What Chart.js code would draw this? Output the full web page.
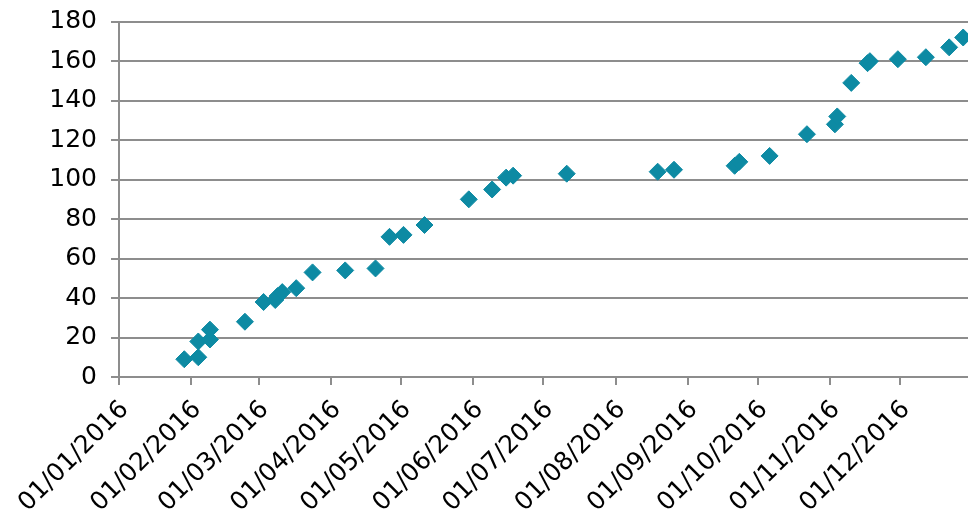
<!DOCTYPE html>
<html>
<head>
<meta charset="utf-8">
<script src="https://cdn.jsdelivr.net/npm/chart.js@4.4.1/dist/chart.umd.min.js"></script>
<style>
  html, body { margin: 0; padding: 0; background: #fff; width: 968px; height: 519px; overflow: hidden; }
  canvas { display: block; }
</style>
</head>
<body>
<canvas id="chart" width="982" height="519"></canvas>
<script>
// Observation dates (ISO) and the running total recorded on each date
const dates = [
  '2016-01-29', '2016-02-04', '2016-02-04', '2016-02-09', '2016-02-09',
  '2016-02-24', '2016-03-03', '2016-03-08', '2016-03-09', '2016-03-11',
  '2016-03-17', '2016-03-24', '2016-04-07', '2016-04-20', '2016-04-26',
  '2016-05-02', '2016-05-11', '2016-05-30', '2016-06-09', '2016-06-15',
  '2016-06-18', '2016-07-11', '2016-08-19', '2016-08-26', '2016-09-21',
  '2016-09-23', '2016-10-06', '2016-10-22', '2016-11-03', '2016-11-04',
  '2016-11-10', '2016-11-17', '2016-11-18', '2016-11-30', '2016-12-12',
  '2016-12-22', '2016-12-28'
];
const values = [
  9, 10, 18, 19, 24,
  28, 38, 39, 41, 43,
  45, 53, 54, 55, 71,
  72, 77, 90, 95, 101,
  102, 103, 104, 105, 107,
  109, 112, 123, 128, 132,
  149, 159, 160, 161, 162,
  167, 172
];

// Month-start ticks along the date axis
const monthTicks = [
  '2016-01-01', '2016-02-01', '2016-03-01', '2016-04-01', '2016-05-01', '2016-06-01',
  '2016-07-01', '2016-08-01', '2016-09-01', '2016-10-01', '2016-11-01', '2016-12-01'
];
const yMin = 0, yMax = 180, yStep = 20;
const xStart = '2016-01-01', xEnd = '2017-01-01';

const DAY_MS = 86400000;
const ORIGIN = Date.UTC(2016, 0, 1);
function dayIndex(iso) {
  const [y, m, d] = iso.split('-').map(Number);
  return Math.round((Date.UTC(y, m - 1, d) - ORIGIN) / DAY_MS);
}
function formatDay(day) {
  const dt = new Date(ORIGIN + day * DAY_MS);
  const dd = String(dt.getUTCDate()).padStart(2, '0');
  const mm = String(dt.getUTCMonth() + 1).padStart(2, '0');
  return dd + '/' + mm + '/' + dt.getUTCFullYear();
}

const points = dates.map((d, i) => ({ x: dayIndex(d), y: values[i] }));

const GRID = '#8d8d8d';
const MARK = '#0d8aa3';

Chart.defaults.font.family = '"DejaVu Sans", sans-serif';
Chart.defaults.font.size = 24;
Chart.defaults.color = '#000';

new Chart(document.getElementById('chart'), {
  type: 'scatter',
  data: {
    datasets: [{
      data: points,
      pointStyle: 'rectRot',
      pointRadius: 8.5,
      pointHoverRadius: 8.5,
      backgroundColor: MARK,
      borderColor: MARK,
      borderWidth: 1
    }]
  },
  options: {
    responsive: false,
    animation: false,
    events: [],
    layout: { padding: { top: 21.7, right: 7, bottom: 0, left: 0 } },
    plugins: { legend: { display: false }, tooltip: { enabled: false } },
    scales: {
      x: {
        type: 'linear',
        min: dayIndex(xStart),
        max: dayIndex(xEnd),
        afterBuildTicks: (scale) => {
          scale.ticks = monthTicks.map(s => ({ value: dayIndex(s) }));
        },
        afterFit: (scale) => { scale.height = 142; },
        grid: { drawOnChartArea: false, drawTicks: true, tickLength: 8, color: GRID, lineWidth: 2 },
        border: { display: true, color: GRID, width: 2 },
        ticks: {
          autoSkip: false,
          minRotation: 45,
          maxRotation: 45,
          padding: 10,
          labelOffset: 6,
          font: { size: 25 },
          callback: (v) => formatDay(v)
        }
      },
      y: {
        min: yMin,
        max: yMax,
        afterFit: (scale) => {
          scale.width = 119;
          scale.paddingTop = 0;
          scale.paddingBottom = 0;
        },
        grid: { color: GRID, lineWidth: 2, drawTicks: true, tickLength: 8 },
        border: { display: true, color: GRID, width: 2 },
        ticks: { stepSize: yStep, padding: 14, font: { size: 25 } }
      }
    }
  }
});
</script>
</body>
</html>
